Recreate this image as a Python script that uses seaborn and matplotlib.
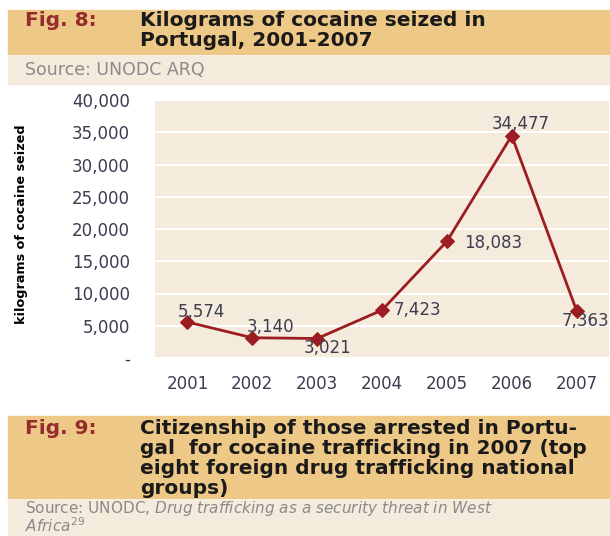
import matplotlib
matplotlib.use('Agg')
import matplotlib.pyplot as plt
import seaborn as sns
import pandas as pd
from matplotlib.patches import Rectangle
from matplotlib.ticker import FuncFormatter

# Data
years = [2001, 2002, 2003, 2004, 2005, 2006, 2007]
kilograms = [5574, 3140, 3021, 7423, 18083, 34477, 7363]
value_labels = ['5,574', '3,140', '3,021', '7,423', '18,083', '34,477', '7,363']
# offsets (pixels) and alignment of the value labels relative to each point
label_offsets = [(14, 10), (18, 11), (10, -9), (12, 0), (17, -2), (9, 12), (-15, -10)]
label_ha = ['center', 'center', 'center', 'left', 'left', 'center', 'left']

df = pd.DataFrame({'year': years, 'kg': kilograms})

W, H = 610, 536
sns.set_style('white')
plt.rcParams['font.family'] = ['DejaVu Sans']
plt.rcParams['mathtext.fontset'] = 'dejavusans'

fig = plt.figure(figsize=(W / 100, H / 100), dpi=100)

band = '#EDC887'
light = '#F5EBDC'
red = '#9B1D22'
txt = '#3C3C50'
grey = '#8a8a8a'


def box(x0, y0, x1, y1, color):
    fig.patches.append(Rectangle((x0 / W, 1 - y1 / H), (x1 - x0) / W, (y1 - y0) / H,
                                 transform=fig.transFigure, color=color, zorder=0))


def ftext(x, y, s, **kw):
    fig.text(x / W, 1 - y / H, s, **kw)


# Fig. 8 header
box(8, 10, 610, 54, band)
box(8, 56, 610, 84, light)
title_kw = dict(family=['DejaVu Sans'], weight='bold', fontsize=14.5, va='center')
ftext(25, 21, 'Fig. 8:', color='#962B2E', **title_kw)
ftext(140, 21, 'Kilograms of cocaine seized in', color='#1a1a1a', **title_kw)
ftext(140, 41, 'Portugal, 2001-2007', color='#1a1a1a', **title_kw)
ftext(25, 70, 'Source: UNODC ARQ', color=grey, fontsize=12.5, va='center')

# Fig. 9 header
box(8, 416, 610, 498, band)
box(8, 500, 610, 536, light)
ftext(25, 429, 'Fig. 9:', color='#962B2E', **title_kw)
ftext(140, 429, 'Citizenship of those arrested in Portu-', color='#1a1a1a', **title_kw)
ftext(140, 449, 'gal  for cocaine trafficking in 2007 (top', color='#1a1a1a', **title_kw)
ftext(140, 469, 'eight foreign drug trafficking national', color='#1a1a1a', **title_kw)
ftext(140, 489, 'groups)', color='#1a1a1a', **title_kw)
ftext(25, 517, 'Source: UNODC, $\\mathit{Drug\\ trafficking\\ as\\ a\\ security\\ threat\\ in\\ West}$\n'
      '$\\mathit{Africa}^{29}$', color=grey, fontsize=11, va='center', linespacing=0.95)

# Plot area
ax = fig.add_axes([155 / W, 1 - 358 / H, 454 / W, 258 / H])
ax.set_facecolor(light)
sns.lineplot(data=df, x='year', y='kg', ax=ax, color=red, linewidth=2,
             marker='D', markersize=7, markeredgecolor=red, zorder=3)

ax.set_xlim(2000.5, 2007.5)
ax.set_ylim(0, 40000)
ax.set_yticks(range(0, 40001, 5000))
ax.yaxis.set_major_formatter(FuncFormatter(lambda v, p: '-' if v == 0 else f'{int(v):,}'))
ax.set_xticks(years)
ax.set_xticks([y + 0.5 for y in years[:-1]] + [2000.5], minor=True)
ax.grid(axis='y', color='white', linewidth=1.5, zorder=1)
ax.set_axisbelow(True)
for s in ax.spines.values():
    s.set_visible(False)
ax.tick_params(axis='both', which='major', length=0, labelsize=12, labelcolor=txt)
ax.tick_params(axis='y', pad=18)
ax.tick_params(axis='x', pad=12)
ax.tick_params(axis='x', which='minor', length=4, color='white', width=1.2, direction='out')
ax.set_xlabel('')
ax.set_ylabel('kilograms of cocaine seized', family=['DejaVu Sans'],
              weight='bold', fontsize=9.2, color='black')
ax.yaxis.set_label_coords(-127 / 454, 0.52)

for x, y, s, (dx, dy), ha in zip(years, kilograms, value_labels, label_offsets, label_ha):
    ax.annotate(s, (x, y), xytext=(dx, dy), textcoords='offset pixels', ha=ha, va='center',
                fontsize=12, color=txt, annotation_clip=False, zorder=4)

fig.savefig('out.png', dpi=100)
